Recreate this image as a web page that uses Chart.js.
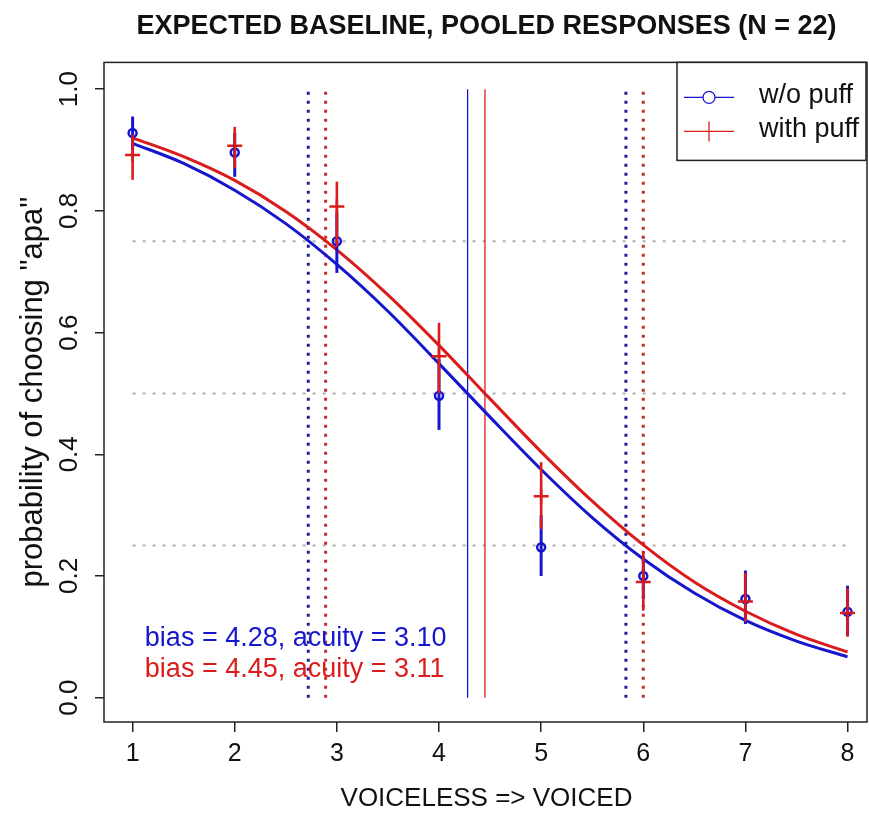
<!DOCTYPE html>
<html>
<head>
<meta charset="utf-8">
<script src="https://cdn.jsdelivr.net/npm/chart.js@4.4.1/dist/chart.umd.min.js"></script>
<style>
  html, body { margin: 0; padding: 0; background: #fff; overflow: hidden; }
  #wrap { width: 869px; height: 821px; position: relative; }
</style>
</head>
<body>
<div id="wrap"><canvas id="psyChart"></canvas></div>
<script>
// stimulus steps on the continuum
const steps = [1, 2, 3, 4, 5, 6, 7, 8];
const yTickValues = [0, 0.2, 0.4, 0.6, 0.8, 1.0];

const noPuffMean = [0.928, 0.896, 0.750, 0.496, 0.247, 0.200, 0.162, 0.141];
const noPuffHigh = [0.955, 0.928, 0.797, 0.556, 0.300, 0.233, 0.209, 0.184];
const noPuffLow  = [0.900, 0.856, 0.698, 0.440, 0.200, 0.162, 0.121, 0.102];

const puffMean = [0.892, 0.907, 0.807, 0.561, 0.331, 0.190, 0.158, 0.139];
const puffHigh = [0.925, 0.938, 0.848, 0.616, 0.387, 0.240, 0.205, 0.180];
const puffLow  = [0.851, 0.870, 0.741, 0.500, 0.277, 0.143, 0.125, 0.100];

// fitted curves, sampled every half step
const curveX = [1, 1.5, 2, 2.5, 3, 3.5, 4, 4.5, 5, 5.5, 6, 6.5, 7, 7.5, 8];
const noPuffFit = [0.911, 0.878, 0.834, 0.779, 0.712, 0.635, 0.549, 0.461, 0.375, 0.296, 0.228, 0.172, 0.127, 0.093, 0.067];
const puffFit   = [0.920, 0.889, 0.850, 0.799, 0.736, 0.662, 0.579, 0.491, 0.404, 0.323, 0.251, 0.190, 0.142, 0.104, 0.075];

// bias (50% point) and 75% / 25% crossover points
const noPuffBias = 4.28;
const puffBias = 4.45;
const noPuffQuartiles = [2.72, 5.83];
const puffQuartiles = [2.89, 6.00];
const refLevels = [0.25, 0.5, 0.75];

const fitText = ['bias = 4.28, acuity = 3.10', 'bias = 4.45, acuity = 3.11'];
const seriesNames = ['w/o puff', 'with puff'];

const BLUE = 'rgb(22,22,205)';
const RED = 'rgb(218,28,28)';
const BLUE_DOT = 'rgb(30,30,150)';
const RED_DOT = 'rgb(195,45,45)';
const FONT = '"Liberation Sans", Arial, sans-serif';

function pts(xs, ys) {
    return xs.map((x, i) => ({ x: x, y: ys[i] }));
}

function vline(x, color, dash, width, order) {
    return {
        data: [{ x: x, y: 0 }, { x: x, y: 1 }],
        showLine: true,
        borderColor: color, borderWidth: width, borderDash: dash,
        pointRadius: 0, fill: false, order: order
    };
}

const refDatasets = [];
refLevels.forEach(v => {
    refDatasets.push({
        data: [{ x: steps[0], y: v }, { x: steps[steps.length - 1], y: v }],
        showLine: true,
        borderColor: 'rgb(175,175,175)', borderWidth: 2, borderDash: [3, 7],
        pointRadius: 0, fill: false, order: 10
    });
});
noPuffQuartiles.forEach(x => refDatasets.push(vline(x, BLUE_DOT, [3, 6], 3, 9)));
puffQuartiles.forEach(x => refDatasets.push(vline(x, RED_DOT, [3, 6], 3, 9)));
refDatasets.push(vline(noPuffBias, BLUE, [], 1.3, 8));
refDatasets.push(vline(puffBias, RED, [], 1.3, 8));

// error bars, fit text, legend and the plot box
const extrasPlugin = {
    id: 'extras',
    afterDatasetsDraw(chart) {
        const ctx = chart.ctx;
        const xs = chart.scales.x, ys = chart.scales.y;
        const bars = [[noPuffLow, noPuffHigh, BLUE, 3], [puffLow, puffHigh, RED, 2.6]];
        ctx.save();
        bars.forEach(([lo, hi, col, w]) => {
            ctx.strokeStyle = col;
            ctx.lineWidth = w;
            steps.forEach((s, i) => {
                const px = xs.getPixelForValue(s);
                ctx.beginPath();
                ctx.moveTo(px, ys.getPixelForValue(lo[i]));
                ctx.lineTo(px, ys.getPixelForValue(hi[i]));
                ctx.stroke();
            });
        });
        ctx.restore();
    },
    afterDraw(chart) {
        const ctx = chart.ctx;
        const a = chart.chartArea;
        const xs = chart.scales.x, ys = chart.scales.y;
        ctx.save();
        ctx.strokeStyle = '#222';
        ctx.lineWidth = 1.5;
        ctx.strokeRect(a.left, a.top, a.right - a.left - 2, a.bottom - a.top);

        ctx.font = '27px ' + FONT;
        ctx.textBaseline = 'alphabetic';
        ctx.textAlign = 'left';
        ctx.fillStyle = BLUE;
        ctx.fillText(fitText[0], xs.getPixelForValue(1.12), ys.getPixelForValue(0.085));
        ctx.fillStyle = RED;
        ctx.fillText(fitText[1], xs.getPixelForValue(1.12), ys.getPixelForValue(0.034));

        // legend, top right corner
        const lx = a.right - 192, ly = a.top, lw = 189, lh = 98;
        ctx.fillStyle = '#fff';
        ctx.fillRect(lx, ly, lw, lh);
        ctx.strokeStyle = '#222';
        ctx.lineWidth = 1.5;
        ctx.strokeRect(lx, ly, lw, lh);
        const rows = [ly + 35, ly + 69];
        ctx.lineWidth = 1.3;
        ctx.strokeStyle = BLUE;
        ctx.beginPath();
        ctx.moveTo(lx + 7, rows[0]); ctx.lineTo(lx + 57, rows[0]);
        ctx.stroke();
        ctx.beginPath();
        ctx.arc(lx + 32, rows[0], 6, 0, Math.PI * 2);
        ctx.fillStyle = '#fff';
        ctx.fill();
        ctx.stroke();
        ctx.strokeStyle = RED;
        ctx.beginPath();
        ctx.moveTo(lx + 7, rows[1]); ctx.lineTo(lx + 57, rows[1]);
        ctx.moveTo(lx + 32, rows[1] - 10); ctx.lineTo(lx + 32, rows[1] + 10);
        ctx.stroke();
        ctx.fillStyle = '#111';
        ctx.font = '27px ' + FONT;
        ctx.textBaseline = 'middle';
        ctx.fillText(seriesNames[0], lx + 82, rows[0] - 2);
        ctx.fillText(seriesNames[1], lx + 82, rows[1] - 2);
        ctx.restore();
    }
};

function initializeChart() {
    const ctx = document.getElementById('psyChart').getContext('2d');
    const datasets = [
        {
            label: seriesNames[1],
            data: pts(steps, puffMean),
            showLine: false,
            pointStyle: 'cross', pointRadius: 7.5,
            borderColor: RED, borderWidth: 2.5, order: 2
        },
        {
            label: seriesNames[0],
            data: pts(steps, noPuffMean),
            showLine: false,
            pointStyle: 'circle', pointRadius: 4,
            borderColor: BLUE, backgroundColor: 'rgba(0,0,0,0)', borderWidth: 2.5, order: 3
        },
        {
            data: pts(curveX, puffFit),
            showLine: true,
            borderColor: RED, borderWidth: 3, pointRadius: 0,
            cubicInterpolationMode: 'monotone', fill: false, order: 4
        },
        {
            data: pts(curveX, noPuffFit),
            showLine: true,
            borderColor: BLUE, borderWidth: 3, pointRadius: 0,
            cubicInterpolationMode: 'monotone', fill: false, order: 5
        }
    ].concat(refDatasets);

    new Chart(ctx, {
        type: 'scatter',
        data: { datasets: datasets },
        plugins: [extrasPlugin],
        options: {
            responsive: true,
            maintainAspectRatio: false,
            animation: false,
            layout: { padding: 0, autoPadding: false },
            plugins: {
                legend: { display: false },
                tooltip: { enabled: false },
                title: {
                    display: true,
                    fullSize: false,
                    text: 'EXPECTED BASELINE, POOLED RESPONSES (N = 22)',
                    color: '#111',
                    font: { family: FONT, size: 27, weight: 'bold', lineHeight: 1.2 },
                    padding: { top: 10, bottom: 20 }
                }
            },
            scales: {
                x: {
                    type: 'linear',
                    min: 0.72, max: 8.21,
                    afterBuildTicks: (s) => { s.ticks = steps.map(v => ({ value: v })); },
                    afterFit: (s) => { s.height = 99; s.paddingLeft = 0; s.paddingRight = 0; },
                    grid: { display: true, drawOnChartArea: false, drawTicks: true, tickLength: 10, color: '#222', lineWidth: 1.5 },
                    border: { display: false },
                    ticks: { color: '#111', font: { family: FONT, size: 25 }, padding: 7, maxRotation: 0, callback: (v) => String(v) },
                    title: {
                        display: true, text: 'VOICELESS => VOICED', color: '#111',
                        font: { family: FONT, size: 26, lineHeight: 1.2 },
                        padding: { top: 0, bottom: 7 }
                    }
                },
                y: {
                    type: 'linear',
                    min: -0.04, max: 1.044,
                    afterBuildTicks: (s) => { s.ticks = yTickValues.map(v => ({ value: v })); },
                    afterFit: (s) => { s.width = 104; s.paddingTop = 0; s.paddingBottom = 0; },
                    grid: { display: true, drawOnChartArea: false, drawTicks: true, tickLength: 9, color: '#222', lineWidth: 1.5 },
                    border: { display: false },
                    ticks: {
                        color: '#111', font: { family: FONT, size: 26 },
                        minRotation: 90, maxRotation: 90, crossAlign: 'center', padding: 7,
                        callback: (v) => v.toFixed(1)
                    },
                    title: {
                        display: true, text: 'probability of choosing "apa"', color: '#111',
                        font: { family: FONT, size: 31, lineHeight: 1.2 },
                        padding: { top: 15, bottom: 0 }
                    }
                }
            }
        }
    });
}

if (document.readyState === 'loading') {
    document.addEventListener('DOMContentLoaded', initializeChart);
} else {
    initializeChart();
}
</script>
</body>
</html>
